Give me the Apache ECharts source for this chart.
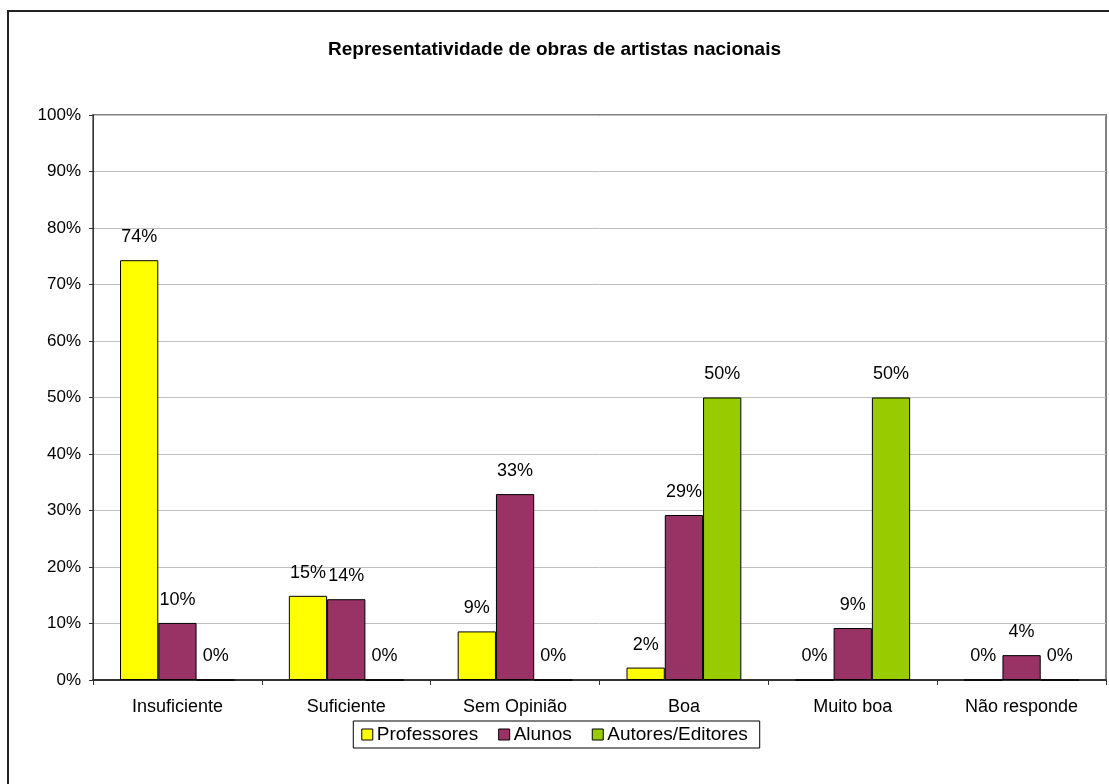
<!DOCTYPE html>
<html>
<head>
<meta charset="utf-8">
<script src="https://cdn.jsdelivr.net/npm/echarts@6/dist/echarts.min.js"></script>
<style>
html,body{margin:0;padding:0;background:#fff;}
#chart{width:1109px;height:784px;}
</style>
</head>
<body>
<div id="chart"></div>
<script>
var titleText = 'Representatividade de obras de artistas nacionais';
var categories = ['Insuficiente', 'Suficiente', 'Sem Opinião', 'Boa', 'Muito boa', 'Não responde'];
var seriesNames = ['Professores', 'Alunos', 'Autores/Editores'];
var professores = [74.3, 14.9, 8.6, 2.2, 0, 0];
var alunos = [10.1, 14.3, 32.9, 29.2, 9.2, 4.4];
var autores = [0, 0, 0, 50, 50, 0];
var colors = ['#FFFF00', '#993366', '#99CC00'];

var FONT = 'Liberation Sans, Arial, sans-serif';
var chart = echarts.init(document.getElementById('chart'));

function mkSeries(name, data, color) {
  return {
    name: name,
    type: 'bar',
    data: data,
    barGap: '0%',
    barCategoryGap: '32%',
    itemStyle: { color: color, borderColor: '#000', borderWidth: 1 },
    label: {
      show: true,
      position: 'top',
      distance: 14,
      color: '#000',
      fontFamily: FONT,
      fontSize: 18,
      formatter: function (p) { return Math.round(p.value) + '%'; }
    },
    emphasis: { disabled: true }
  };
}

chart.setOption({
  animation: false,
  backgroundColor: '#fff',
  title: {
    text: titleText,
    left: 'center',
    top: 35,
    textStyle: { fontFamily: FONT, fontSize: 19, fontWeight: 'bold', color: '#000' }
  },
  graphic: [{
    type: 'rect',
    shape: { x: 8, y: 11, width: 1200, height: 900 },
    style: { fill: 'none', stroke: '#222', lineWidth: 2 },
    silent: true,
    z: 100
  }],
  legend: {
    bottom: 36,
    left: 'center',
    itemWidth: 11,
    itemHeight: 11,
    itemGap: 20,
    padding: [4, 12, 4, 8],
    borderColor: '#000',
    borderWidth: 1,
    icon: 'rect',
    textStyle: { fontFamily: FONT, fontSize: 19, color: '#000', padding: [0, 0, 0, -1] },
    itemStyle: { borderColor: '#000', borderWidth: 1 },
    data: seriesNames
  },
  grid: {
    left: 93, right: 3, top: 115, bottom: 104,
    show: true, borderColor: '#808080', borderWidth: 2, backgroundColor: 'transparent'
  },
  xAxis: {
    type: 'category',
    data: categories,
    axisLine: { lineStyle: { color: '#333', width: 2 } },
    axisTick: { show: true, length: 5, lineStyle: { color: '#333' } },
    axisLabel: { color: '#000', fontFamily: FONT, fontSize: 18, margin: 18 }
  },
  yAxis: {
    type: 'value',
    min: 0, max: 100, interval: 10,
    axisLine: { show: true, lineStyle: { color: '#333', width: 1 } },
    axisTick: { show: true, length: 4, lineStyle: { color: '#333' } },
    axisLabel: { color: '#000', fontFamily: FONT, fontSize: 17, margin: 12, formatter: '{value}%' },
    splitLine: { lineStyle: { color: '#c0c0c0', width: 1 } }
  },
  series: [
    mkSeries(seriesNames[0], professores, colors[0]),
    mkSeries(seriesNames[1], alunos, colors[1]),
    mkSeries(seriesNames[2], autores, colors[2])
  ]
});
</script>
</body>
</html>
